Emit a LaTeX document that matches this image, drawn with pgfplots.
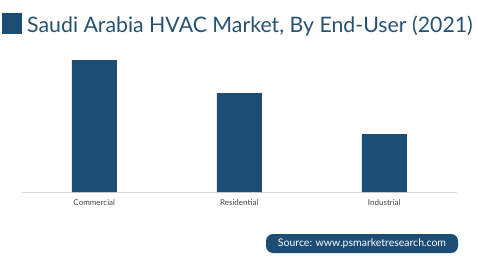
\documentclass[border=0pt]{standalone}
\usepackage{pgfplots}
\pgfplotsset{compat=1.18}
\usepackage{fontspec}
\setmainfont{Lato}
\definecolor{mainblue}{RGB}{28,78,117}
\definecolor{titleblue}{RGB}{38,82,112}
\definecolor{labgray}{RGB}{70,70,70}
\begin{document}
\begin{tikzpicture}[x=1pt,y=1pt]
\useasboundingbox (0,0) rectangle (478,266);
% title
\fill[mainblue] (2,266-34) rectangle (22,266-13);
\node[anchor=base west, inner sep=0pt, text=titleblue, font=\fontsize{21.3}{24}\selectfont] at (27,266-32) {Saudi Arabia HVAC Market, By End-User (2021)};
\begin{axis}[
  at={(15,266-192)}, anchor=south west,
  scale only axis, width=435pt, height=140pt,
  xmin=-0.5, xmax=2.5, ymin=0, ymax=140,
  axis x line*=bottom, axis y line=none,
  x axis line style={draw=black!15, line width=0.8pt, -},
  xtick=data, xticklabels={Commercial,Residential,Industrial},
  xtick style={draw=none},
  xticklabel style={font=\fontsize{8}{10}\selectfont, text=labgray, yshift=-4pt},
  ytick=\empty,
  clip=false,
]
\addplot[ybar, bar width=45pt, fill=mainblue, draw=none] coordinates {(0,132) (1,99) (2,58)};
\end{axis}
\node[fill=mainblue, rounded corners=7pt, minimum width=192pt, minimum height=19pt, inner sep=0pt, text=white, font=\fontsize{10.5}{12}\selectfont] at (362,266-243.5) {Source: www.psmarketresearch.com};
\end{tikzpicture}
\end{document}
